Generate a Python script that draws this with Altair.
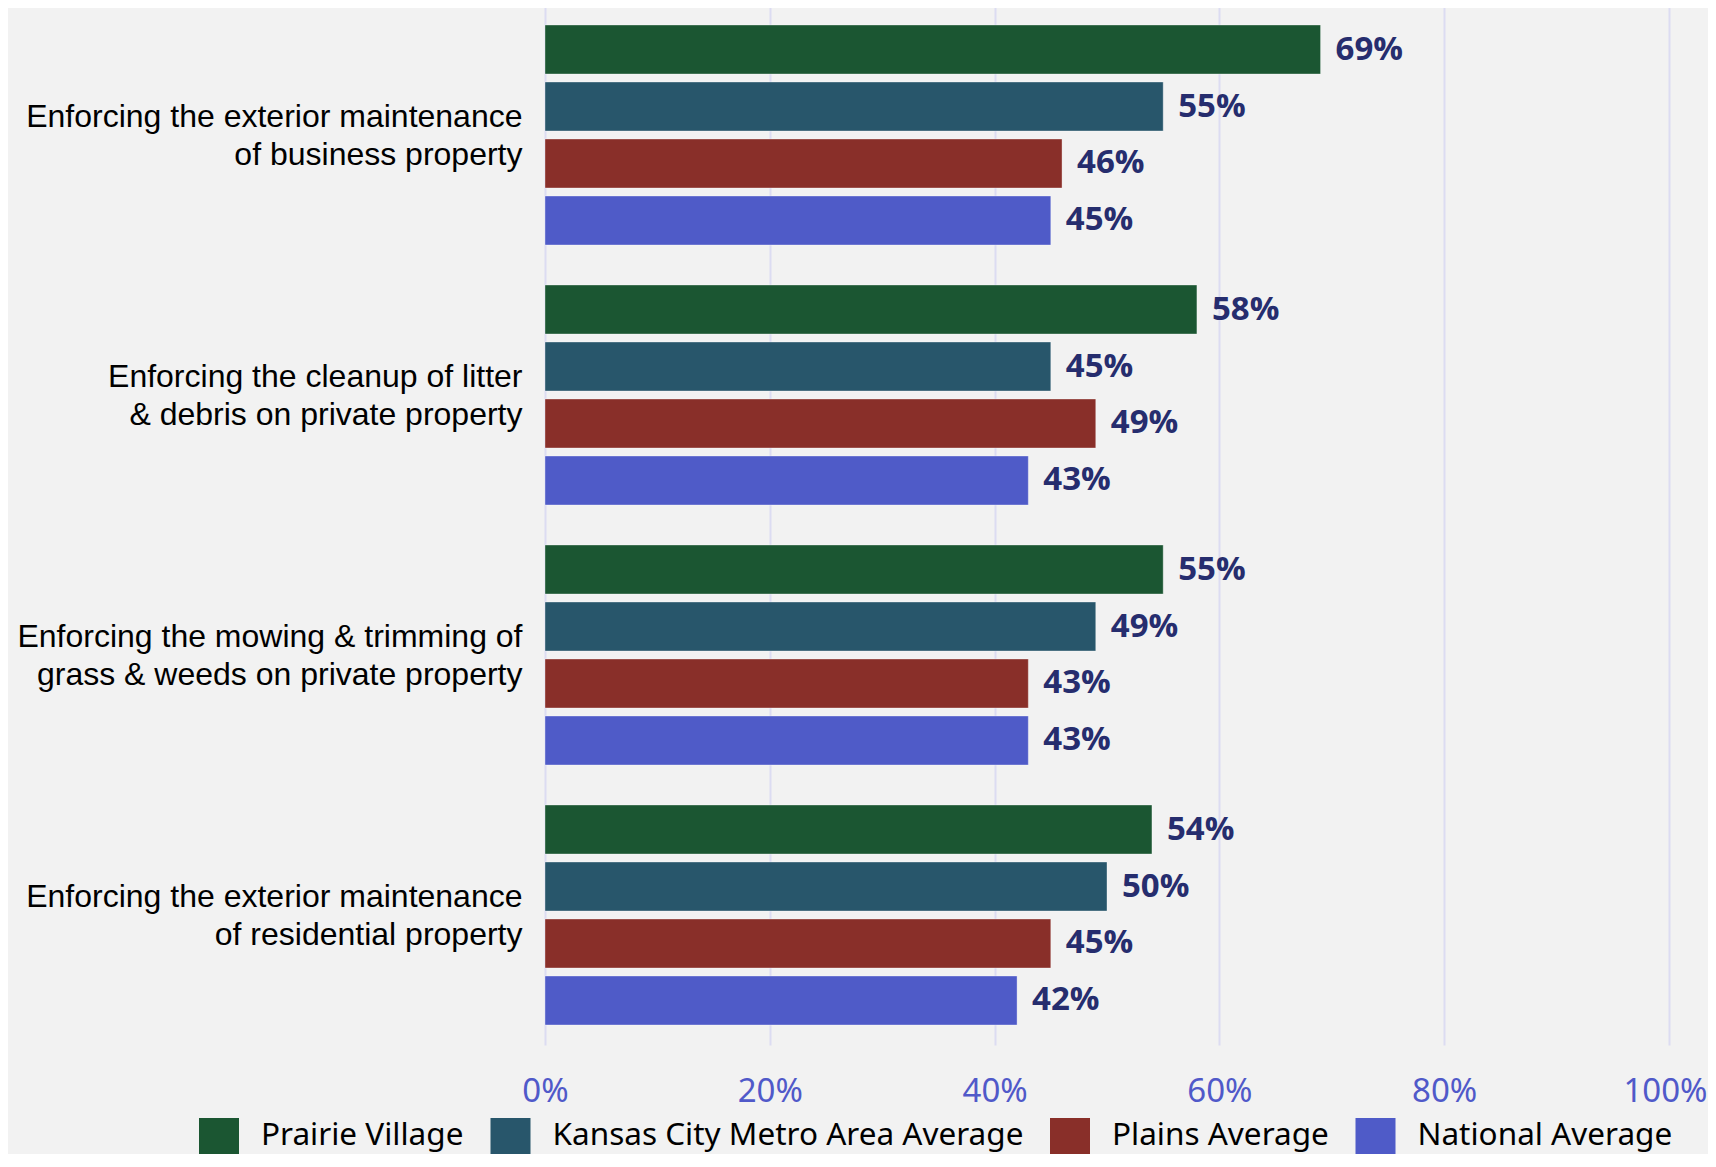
import altair as alt
import pandas as pd

categories = [
    "Enforcing the exterior maintenance|of business property",
    "Enforcing the cleanup of litter|& debris on private property",
    "Enforcing the mowing & trimming of|grass & weeds on private property",
    "Enforcing the exterior maintenance|of residential property",
]
series = [
    "Prairie Village",
    "Kansas City Metro Area Average",
    "Plains Average",
    "National Average",
]
colors = ["#1b5632", "#28566b", "#892f29", "#4f5bc8"]

prairie_village = [69, 58, 55, 54]
kc_metro = [55, 45, 49, 50]
plains = [46, 49, 43, 45]
national = [45, 43, 43, 42]

values_by_series = [prairie_village, kc_metro, plains, national]
rows = []
for s, vals in zip(series, values_by_series):
    for c, v in zip(categories, vals):
        rows.append({"category": c, "series": s, "value": v, "label": f"{v}%"})
df = pd.DataFrame(rows)

y_enc = alt.Y(
    "category:N",
    sort=categories,
    title=None,
    scale=alt.Scale(paddingInner=0.1538, paddingOuter=0.0769),
    axis=alt.Axis(
        domain=False,
        ticks=False,
        labelPadding=23,
        labelOffset=-18,
        labelFont="Liberation Sans",
        labelFontSize=32,
        labelColor="#000000",
        labelLimit=700,
        labelLineHeight=38,
        labelExpr="split(datum.label, '|')",
    ),
)
yoff_enc = alt.YOffset(
    "series:N", sort=series, scale=alt.Scale(paddingInner=0.14, paddingOuter=0)
)
x_enc = alt.X(
    "value:Q",
    title=None,
    scale=alt.Scale(domain=[0, 100], nice=False),
    axis=alt.Axis(
        values=[0, 20, 40, 60, 80, 100],
        labelExpr="datum.value + '%'",
        domain=False,
        ticks=False,
        grid=True,
        gridColor="#dcdcf2",
        gridWidth=2,
        labelFlush=False,
        labelOffset={"condition": {"test": "datum.value == 100", "value": -4}, "value": 0},
        labelPadding=30,
        labelFont="Noto Sans",
        labelFontSize=33,
        labelColor="#5059c9",
    ),
)

bars = alt.Chart(df).mark_bar(
    stroke="#ffffff", strokeWidth=1, strokeOpacity=0.35
).encode(
    y=y_enc,
    yOffset=yoff_enc,
    x=x_enc,
    color=alt.Color(
        "series:N",
        sort=series,
        scale=alt.Scale(domain=series, range=colors),
        title=None,
        legend=alt.Legend(
            orient="none",
            direction="horizontal",
            legendX=-344,
            legendY=1113,
            symbolType="M-1.111,-1H1.111V1H-1.111Z",
            symbolSize=1296,
            symbolStrokeWidth=0,
            symbolOpacity=1,
            labelFont="Noto Sans",
            labelFontSize=31.5,
            labelColor="#000000",
            labelOffset=24,
            columnPadding=26.5,
            labelLimit=700,
            padding=0,
        ),
    ),
)

texts = alt.Chart(df).mark_text(
    align="left",
    baseline="middle",
    dx=15,
    font="Open Sans",
    fontWeight="bold",
    fontSize=33,
    color="#262d6e",
).encode(
    y=alt.Y("category:N", sort=categories),
    yOffset=alt.YOffset("series:N", sort=series),
    x=alt.X("value:Q"),
    text="label:N",
)

chart = (
    alt.layer(bars, texts)
    .properties(
        width=1124,
        height=1040,
        background="#f2f2f2",
        autosize=alt.AutoSizeParams(type="none"),
        padding={"left": 537, "top": -3, "right": 39, "bottom": 109},
    )
    .configure_view(stroke=None)
)

chart.save("out.html", embed_options={"renderer": "svg", "actions": False})
